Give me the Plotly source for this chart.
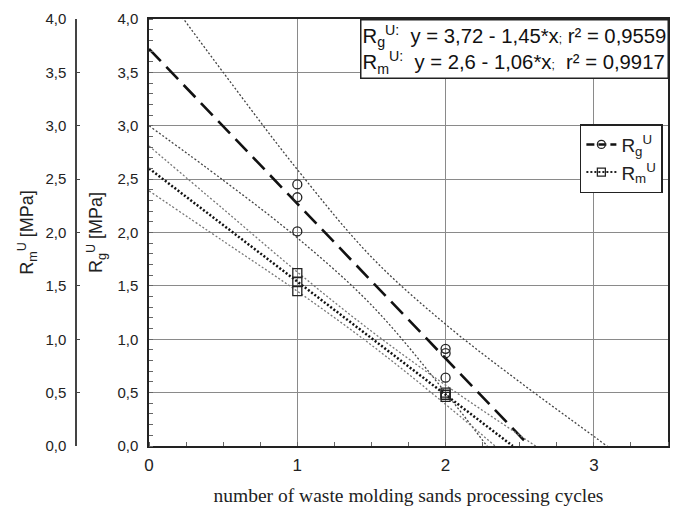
import plotly.graph_objects as go

# ---- data ----
cycles = [1, 1, 1, 2, 2, 2]
rg_values = [2.45, 2.33, 2.01, 0.91, 0.87, 0.64]
rm_values = [1.62, 1.54, 1.45, 0.50, 0.48, 0.46]

# fitted lines (end points)
rg_fit_x = [0, 2.566]
rg_fit_y = [3.72, 0.0]
rm_fit_x = [0, 2.453]
rm_fit_y = [2.60, 0.0]

# confidence bands read at these x positions
band_x = [0, 0.5, 1, 1.5, 2, 2.5, 3, 3.5]
rg_upper = [4.44, 3.50, 2.59, 1.77, 1.14, 0.60, 0.09, -0.42]
rg_lower = [3.00, 2.49, 1.95, 1.32, 0.50, -0.41, -1.35, -2.29]
rm_upper = [2.81, 2.22, 1.63, 1.075, 0.57, 0.10, -0.37, -0.84]
rm_lower = [2.39, 1.92, 1.45, 0.945, 0.39, -0.196, -0.79, -1.38]

x_ticks = [0, 1, 2, 3]
y_ticks = [0, 0.5, 1, 1.5, 2, 2.5, 3, 3.5, 4]

label_rg = "R<sub>g</sub><sup>U</sup>"
label_rm = "R<sub>m</sub><sup>U</sup>"
eq_text = ("R<sub>g</sub><sup>U:</sup>  y = 3,72 - 1,45*x<span style='font-size:12px'>;</span> r² = 0,9559<br>"
           "R<sub>m</sub><sup>U:</sup>  y = 2,6 - 1,06*x<span style='font-size:12px'>;</span>  r² = 0,9917")

fig = go.Figure()

# bands
fig.add_trace(go.Scatter(x=band_x, y=rg_upper, mode="lines", line=dict(color="#444", width=1.3, dash="2px,2px", shape="spline"), showlegend=False))
fig.add_trace(go.Scatter(x=band_x, y=rg_lower, mode="lines", line=dict(color="#444", width=1.3, dash="2px,2px", shape="spline"), showlegend=False))
fig.add_trace(go.Scatter(x=band_x, y=rm_upper, mode="lines", line=dict(color="#777", width=1.3, dash="2px,2px", shape="spline"), showlegend=False, yaxis="y2"))
fig.add_trace(go.Scatter(x=band_x, y=rm_lower, mode="lines", line=dict(color="#777", width=1.3, dash="2px,2px", shape="spline"), showlegend=False, yaxis="y2"))

# fits
fig.add_trace(go.Scatter(x=rg_fit_x, y=rg_fit_y, mode="lines", line=dict(color="#111", width=2.6, dash="17px,8px"), showlegend=False))
fig.add_trace(go.Scatter(x=rm_fit_x, y=rm_fit_y, mode="lines", line=dict(color="#111", width=2.5, dash="2px,2px"), showlegend=False, yaxis="y2"))

# points
fig.add_trace(go.Scatter(x=cycles, y=rg_values, mode="markers",
                         marker=dict(symbol="circle-open", size=9, color="#222", line=dict(width=1.3)), showlegend=False))
fig.add_trace(go.Scatter(x=cycles, y=rm_values, mode="markers", yaxis="y2",
                         marker=dict(symbol="square-open", size=9, color="#222", line=dict(width=1.3)), showlegend=False))

# legend entries
fig.add_trace(go.Scatter(x=[None], y=[None], mode="lines+markers", name=label_rg,
                         line=dict(color="#111", width=2.5, dash="8px,4px"),
                         marker=dict(symbol="circle-open", size=8, color="#222", line=dict(width=1.3))))
fig.add_trace(go.Scatter(x=[None], y=[None], mode="lines+markers", name=label_rm,
                         line=dict(color="#222", width=2, dash="2px,2px"),
                         marker=dict(symbol="square-open", size=8, color="#222", line=dict(width=1.3))))

tickfont = dict(family="Liberation Sans", size=15, color="#222")
titlefont = dict(family="Liberation Sans", size=18, color="#222")

fig.update_layout(
    width=680, height=507,
    margin=dict(l=0, r=0, t=11, b=69, autoexpand=False),
    paper_bgcolor="white", plot_bgcolor="white",
    separators=",.",
    xaxis=dict(domain=[0.2074, 0.9706], range=[0, 3.5], tickvals=x_ticks, ticks="",
               showgrid=True, gridcolor="#8a8a8a", gridwidth=1,
               showline=True, linecolor="#222", linewidth=1.5, mirror=True, zeroline=False,
               minor=dict(dtick=0.25, ticks="inside", ticklen=4, tickcolor="#666", showgrid=False),
               tickfont=dict(family="Liberation Sans", size=17, color="#222"), ticklabelstandoff=3,
               automargin=False,
               title=dict(text="number of waste molding sands processing cycles",
                          font=dict(family="Liberation Serif", size=19.5, color="#222"), standoff=14)),
    yaxis=dict(range=[0, 4], tickvals=y_ticks, tickformat=".1f", ticks="",
               showgrid=True, gridcolor="#8a8a8a", gridwidth=1,
               showline=True, linecolor="#222", linewidth=1.5, mirror=True, zeroline=False,
               minor=dict(dtick=0.1, ticks="inside", ticklen=4, tickcolor="#666", showgrid=False),
               tickfont=tickfont, ticklabelstandoff=6, automargin=False,
               title=dict(text=label_rg + " [MPa]", font=titlefont, standoff=10)),
    yaxis2=dict(overlaying="y", anchor="free", position=0.1, side="left",
                range=[0, 4], tickvals=y_ticks, tickformat=".1f", ticks="inside", ticklen=3, tickcolor="#444",
                showgrid=False, showline=True, linecolor="#444", linewidth=1.5, zeroline=False,
                tickfont=tickfont, ticklabelstandoff=6, automargin=False,
                title=dict(text=label_rm + " [MPa]", font=titlefont, standoff=6)),
    legend=dict(x=0.841, y=0.754, xanchor="left", yanchor="top",
                bgcolor="white", bordercolor="#222", borderwidth=1.5,
                font=dict(family="Liberation Sans", size=19, color="#222"),
                itemwidth=30, tracegroupgap=2),
    annotations=[dict(text=eq_text, xref="paper", yref="paper", x=0.972, y=1.0,
                      xanchor="right", yanchor="top", align="left", showarrow=False,
                      font=dict(family="Liberation Sans", size=20.3, color="#111"),
                      bgcolor="white", bordercolor="#222", borderwidth=1.5, borderpad=1)],
)

fig.write_html("out.html")
